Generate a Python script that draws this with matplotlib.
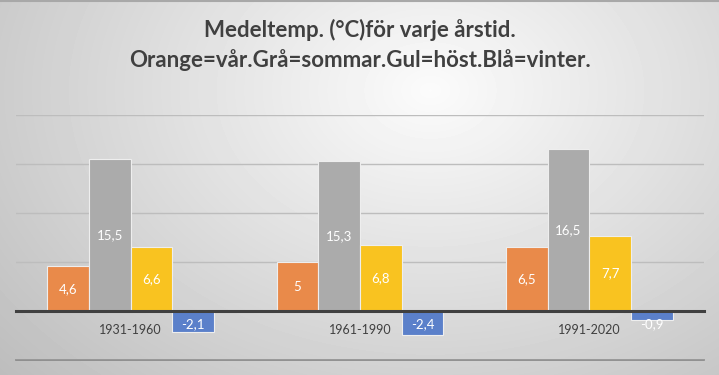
import numpy as np
import matplotlib
matplotlib.use("Agg")
import matplotlib.pyplot as plt

periods = ["1931-1960", "1961-1990", "1991-2020"]
spring = [4.6, 5.0, 6.5]
summer = [15.5, 15.3, 16.5]
autumn = [6.6, 6.8, 7.7]
winter = [-2.1, -2.4, -0.9]
value_labels = [["4,6", "5", "6,5"],
                ["15,5", "15,3", "16,5"],
                ["6,6", "6,8", "7,7"],
                ["-2,1", "-2,4", "-0,9"]]

title = "Medeltemp. (°C)för varje årstid.\nOrange=vår.Grå=sommar.Gul=höst.Blå=vinter."
colors = ["#e98a4a", "#ababab", "#f9c320", "#5b80ca"]

plt.rcParams["font.family"] = ["Lato", "DejaVu Sans"]

fig = plt.figure(figsize=(7.19, 3.75), dpi=100)

# radial grey background
bg = fig.add_axes([0, 0, 1, 1], zorder=-10)
yy, xx = np.mgrid[0:375, 0:719]
r = np.sqrt(((xx - 430) / 520.0) ** 2 + ((yy - 90) / 380.0) ** 2)
shade = np.clip(0.985 - 0.22 * r, 0.74, 1.0)
bg.imshow(shade, cmap="gray", vmin=0, vmax=1, aspect="auto",
          extent=[0, 1, 0, 1], origin="upper")
bg.axhline(0.998, color="#a8a8a8", lw=1.5)
bg.set_xlim(0, 1)
bg.set_ylim(0, 1)
bg.axis("off")

ax = fig.add_axes([0.0223, 0.0392, 0.9567, 0.654])
ax.patch.set_alpha(0)

series = [spring, summer, autumn, winter]
n = len(series)
width = 1.0 / (n + 1.5)
x = np.arange(len(periods))

for i, (vals, col) in enumerate(zip(series, colors)):
    pos = x + (i - (n - 1) / 2) * width
    ax.bar(pos, vals, width, color=col, edgecolor="#eeeeee", linewidth=0.8,
           zorder=3)
    for p, v, lab in zip(pos, vals, value_labels[i]):
        ypos = v / 2 if v > 0 else min(v / 2, -1.3)
        ax.text(p, ypos, lab, ha="center", va="center", color="white",
                fontsize=9.5, zorder=5)

ax.set_xlim(-0.5, len(periods) - 0.5)
ax.set_ylim(-5, 20)
ax.set_yticks([-5, 0, 5, 10, 15, 20])
ax.yaxis.grid(True, color="#bdbdbd", lw=1, zorder=0)
ax.axhline(-5, color="#868686", lw=1.2, zorder=1, clip_on=False)
ax.set_yticklabels([])
ax.tick_params(axis="y", length=0)

for s in ["left", "right", "top"]:
    ax.spines[s].set_visible(False)
ax.spines["bottom"].set_position(("data", 0))
ax.spines["bottom"].set_color("#404040")
ax.spines["bottom"].set_linewidth(2.2)
ax.spines["bottom"].set_zorder(4)

ax.set_xticks(x)
ax.set_xticklabels(periods, fontsize=9, color="#404040")
ax.tick_params(axis="x", length=0, pad=9)

fig.text(0.5, 0.879, title, ha="center", va="center", fontsize=16,
         fontweight="bold", color="#404040", linespacing=1.45)

fig.savefig("out.png", dpi=100)
plt.close(fig)
